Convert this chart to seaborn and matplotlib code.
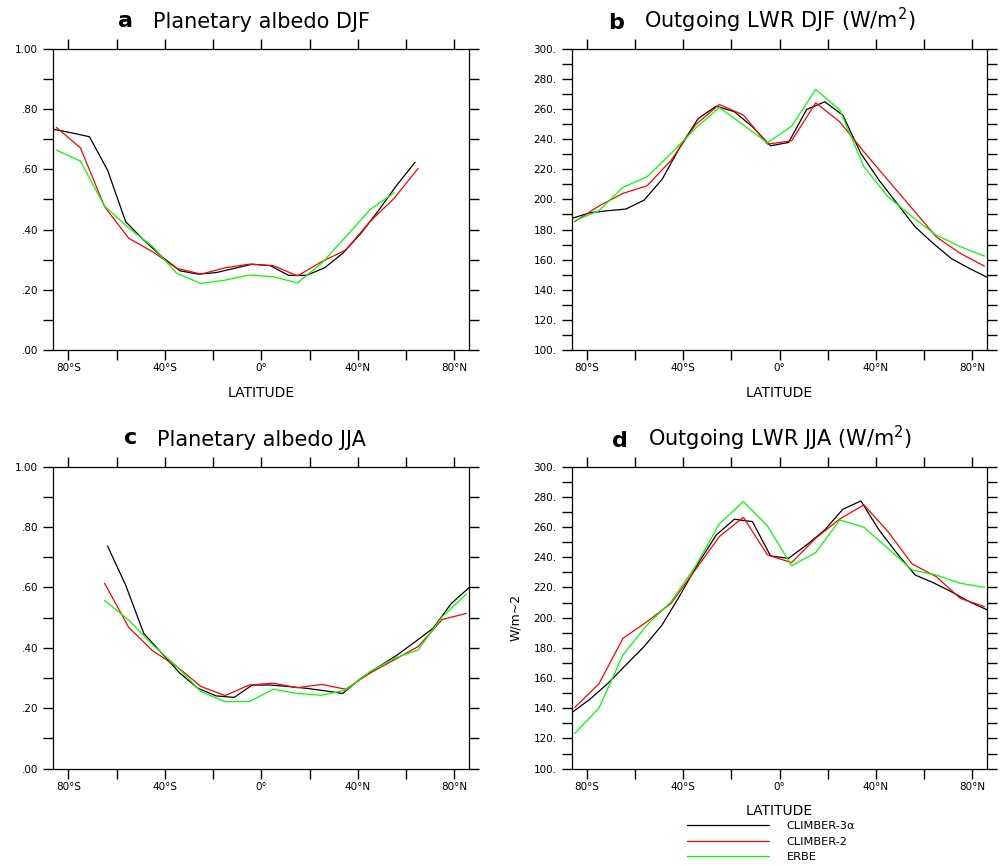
import numpy as np
import pandas as pd
import seaborn as sns
import matplotlib.pyplot as plt
from matplotlib.lines import Line2D

# latitude grids (CLIMBER-3a on 7.5 deg grid, CLIMBER-2 / ERBE on 10 deg grid)
lat_c3 = [-86.25, -78.75, -71.25, -63.75, -56.25, -48.75, -41.25, -33.75,
          -26.25, -18.75, -11.25, -3.75, 3.75, 11.25, 18.75, 26.25,
          33.75, 41.25, 48.75, 56.25, 63.75, 71.25, 78.75, 86.25]
lat_10 = [-85, -75, -65, -55, -45, -35, -25, -15, -5,
          5, 15, 25, 35, 45, 55, 65, 75, 85]

nan = np.nan

# planetary albedo DJF
alb_djf_c3 = [0.733, 0.721, 0.708, 0.597, 0.426, 0.365, 0.310, 0.263, 0.252, 0.257, 0.271, 0.285,
              0.280, 0.248, 0.248, 0.273, 0.321, 0.387, 0.465, 0.548, 0.623, nan, nan, nan]
alb_djf_c2 = [0.739, 0.671, 0.476, 0.371, 0.326, 0.271, 0.252, 0.273, 0.285,
              0.280, 0.246, 0.293, 0.332, 0.426, 0.503, 0.603, nan, nan]
alb_djf_erbe = [0.664, 0.627, 0.478, 0.405, 0.343, 0.254, 0.221, 0.232, 0.249,
                0.243, 0.223, 0.288, 0.376, 0.465, 0.522, nan, nan, nan]

# outgoing LWR DJF
olr_djf_c3 = [187.4, 191.1, 192.5, 193.6, 199.5, 213.3, 235.0, 253.7, 261.9, 258.2, 248.2, 235.6,
              237.8, 259.7, 264.8, 256.0, 230.5, 212.8, 197.3, 181.8, 170.8, 160.8, 154.2, 148.2]
olr_djf_c2 = [185.2, 195.6, 204.0, 209.0, 226.0, 249.3, 263.0, 256.0, 236.7,
              238.9, 264.1, 251.5, 231.6, 212.8, 194.0, 175.2, 164.2, 155.7]
olr_djf_erbe = [185.8, 192.5, 208.0, 215.0, 230.5, 247.1, 261.0, 249.3, 237.6,
                248.6, 273.0, 259.3, 221.7, 201.8, 188.5, 176.3, 168.6, 162.4]

# planetary albedo JJA
alb_jja_c3 = [nan, nan, nan, 0.737, 0.608, 0.448, 0.382, 0.316, 0.266, 0.241, 0.236, 0.277,
              0.277, 0.272, 0.266, 0.258, 0.249, 0.299, 0.338, 0.376, 0.420, 0.465, 0.547, 0.600]
alb_jja_c2 = [nan, nan, 0.614, 0.468, 0.390, 0.338, 0.272, 0.242, 0.277,
              0.283, 0.268, 0.279, 0.263, 0.316, 0.360, 0.404, 0.494, 0.514]
alb_jja_erbe = [nan, nan, 0.557, 0.492, 0.410, 0.338, 0.255, 0.222, 0.222,
                0.263, 0.249, 0.243, 0.260, 0.321, 0.365, 0.393, 0.503, 0.578]

# outgoing LWR JJA
olr_jja_c3 = [137.1, 145.9, 156.5, 168.7, 180.8, 195.2, 215.0, 236.0, 254.8, 265.2, 263.6, 240.9,
              239.3, 248.2, 258.1, 271.8, 277.3, 258.1, 242.6, 228.3, 223.2, 217.2, 210.6, 205.1]
olr_jja_c2 = [140.6, 156.1, 186.3, 197.4, 209.5, 231.6, 253.7, 266.5, 241.5,
              236.5, 252.6, 265.4, 274.7, 257.0, 235.6, 227.2, 212.8, 207.3]
olr_jja_erbe = [123.4, 140.0, 175.3, 195.2, 210.6, 233.8, 262.1, 276.9, 260.7,
                234.5, 243.1, 264.7, 259.9, 245.9, 231.6, 228.3, 222.8, 220.1]

models = ["CLIMBER-3α", "CLIMBER-2", "ERBE"]
colors = ["#000000", "#ff0000", "#00ff00"]

xticks = [-80, -60, -40, -20, 0, 20, 40, 60, 80]
xticklabels = ["80°S", "", "40°S", "", "0°", "", "40°N", "", "80°N"]
alb_ticks = [0.0, 0.2, 0.4, 0.6, 0.8, 1.0]
alb_labels = [".00", ".20", ".40", ".60", ".80", "1.00"]
alb_minor = [0.1, 0.3, 0.5, 0.7, 0.9]
olr_ticks = [100, 120, 140, 160, 180, 200, 220, 240, 260, 280, 300]
olr_labels = ["100.", "120.", "140.", "160.", "180.", "200.", "220.", "240.", "260.", "280.", "300."]
olr_minor = [110, 130, 150, 170, 190, 210, 230, 250, 270, 290]

sns.set_style("white")
plt.rcParams["font.family"] = ["DejaVu Sans"]
plt.rcParams["text.color"] = "black"
plt.rcParams["axes.labelcolor"] = "black"
plt.rcParams["xtick.color"] = "black"
plt.rcParams["ytick.color"] = "black"


def panel(ax, c3, c2, erbe, letter, title, yticks, ylabels, yminor, xlabel=True):
    df = pd.concat([
        pd.DataFrame({"lat": lat_c3, "val": c3, "model": models[0]}),
        pd.DataFrame({"lat": lat_10, "val": c2, "model": models[1]}),
        pd.DataFrame({"lat": lat_10, "val": erbe, "model": models[2]}),
    ]).dropna()
    sns.lineplot(data=df, x="lat", y="val", hue="model", hue_order=models,
                 palette=colors, linewidth=0.9, legend=False, ax=ax, estimator=None)
    ax.set_xlim(-86.25, 86.25)
    ax.set_ylim(yticks[0], yticks[-1])
    ax.set_xticks(xticks)
    ax.set_xticklabels(xticklabels)
    ax.set_yticks(yticks)
    ax.set_yticklabels(ylabels)
    ax.set_yticks(yminor, minor=True)
    ax.tick_params(which="both", direction="out", length=7, width=1.0,
                   top=True, right=True, bottom=True, left=True,
                   labelsize=7.5, color="black", labelcolor="black")
    ax.tick_params(axis="x", pad=2.5)
    ax.tick_params(axis="y", pad=4)
    for s in ax.spines.values():
        s.set_linewidth(0.9)
        s.set_color("black")
    ax.set_ylabel("")
    if xlabel:
        ax.set_xlabel("LATITUDE", fontsize=10)
        ax.xaxis.set_label_coords(0.5, -0.118)
    else:
        ax.set_xlabel("")
    t = ax.text(0.5, 1.069, title, transform=ax.transAxes, ha="center",
                va="baseline", fontsize=15)
    ax.annotate(letter, xy=(0, 0), xycoords=t, xytext=(-14, 1),
                textcoords="offset points", ha="right", va="bottom",
                fontsize=16, fontweight="bold")


fig = plt.figure(figsize=(10.02, 8.66), dpi=100)
ax_a = fig.add_axes([0.0532, 0.5958, 0.4152, 0.3479])
ax_b = fig.add_axes([0.5706, 0.5958, 0.4148, 0.3479])
ax_c = fig.add_axes([0.0532, 0.1124, 0.4152, 0.3487])
ax_d = fig.add_axes([0.5706, 0.1124, 0.4148, 0.3487])

panel(ax_a, alb_djf_c3, alb_djf_c2, alb_djf_erbe, "a", "Planetary albedo DJF",
      alb_ticks, alb_labels, alb_minor)
panel(ax_b, olr_djf_c3, olr_djf_c2, olr_djf_erbe, "b", "Outgoing LWR DJF (W/m$^2$)",
      olr_ticks, olr_labels, olr_minor)
panel(ax_c, alb_jja_c3, alb_jja_c2, alb_jja_erbe, "c", "Planetary albedo JJA",
      alb_ticks, alb_labels, alb_minor, xlabel=False)
panel(ax_d, olr_jja_c3, olr_jja_c2, olr_jja_erbe, "d", "Outgoing LWR JJA (W/m$^2$)",
      olr_ticks, olr_labels, olr_minor)
ax_d.set_ylabel("W/m~2", fontsize=9)
ax_d.yaxis.set_label_coords(-0.12, 0.5)

handles = [Line2D([], [], color=c, linewidth=0.9) for c in colors]
fig.legend(handles, models, loc="upper left", bbox_to_anchor=(0.6856, 0.0515),
           frameon=False, fontsize=8.2, handlelength=7.2, handletextpad=1.55,
           labelspacing=0.47, borderpad=0, borderaxespad=0)

fig.savefig("out.png", dpi=100)
